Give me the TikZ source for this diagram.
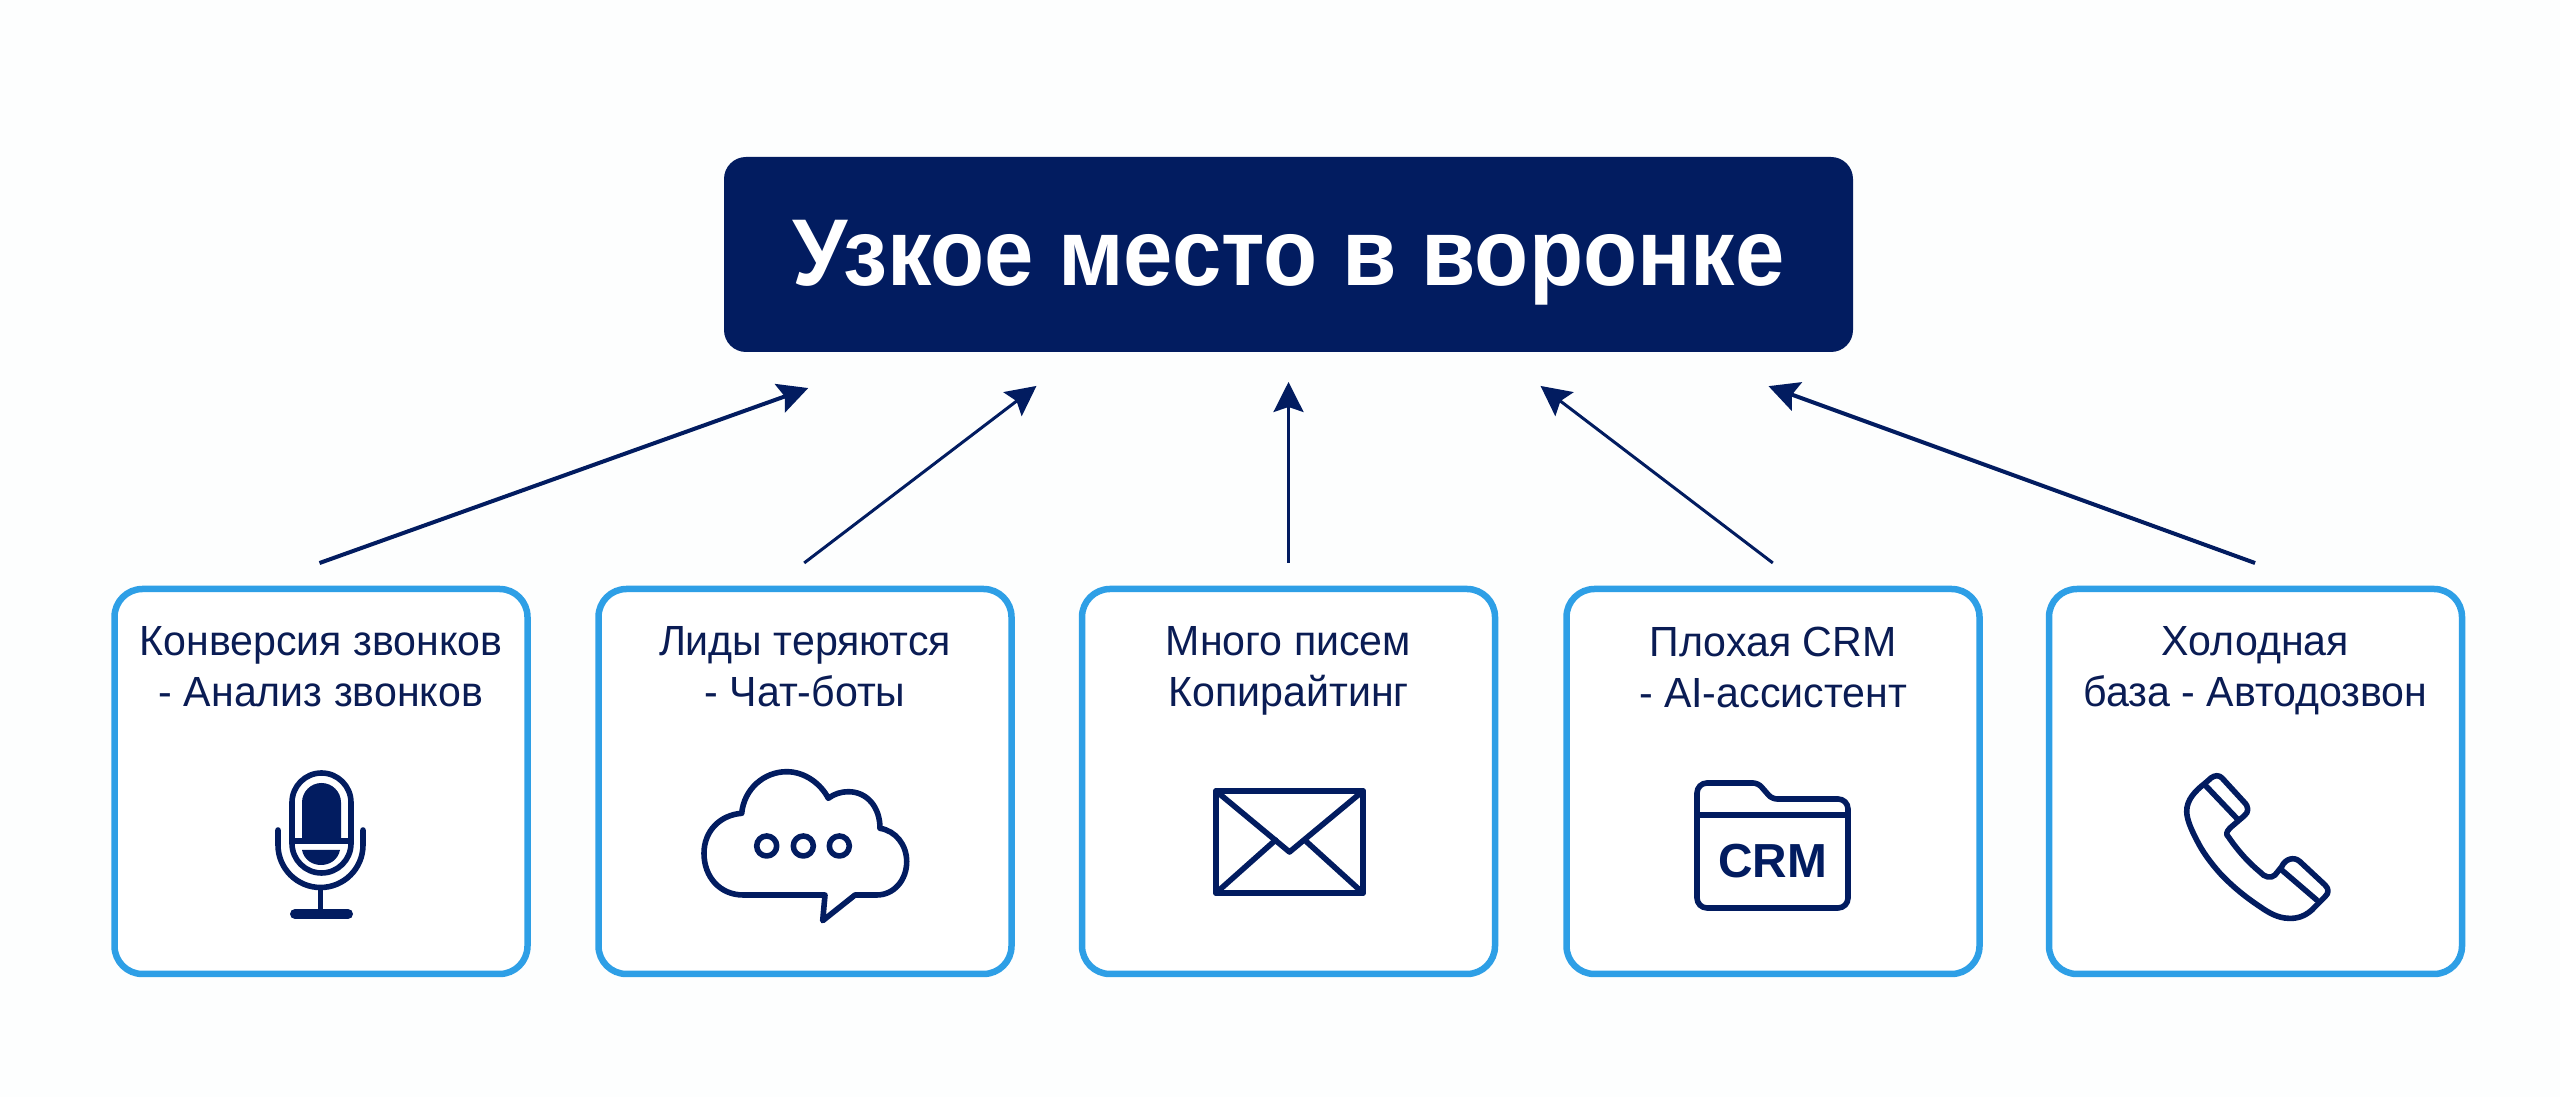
\documentclass[tikz,border=0pt]{standalone}
\usepackage{fontspec}
\setmainfont{Liberation Sans}
\newfontfamily\titlefont[FakeStretch=0.934]{Liberation Sans}
\newfontfamily\labelfont[FakeStretch=0.975]{Liberation Sans}
\usepackage{tikz}
\usetikzlibrary{arrows.meta}
\definecolor{fnnavy}{RGB}{2, 28, 96}
\definecolor{fnink}{RGB}{10, 28, 84}
\definecolor{fnblue}{RGB}{46, 159, 230}
\definecolor{fnpaper}{RGB}{253, 254, 254}

\begin{document}
\begin{tikzpicture}[every node/.style={font=\fontsize{12pt}{14.5pt}\labelfont},
  card/.style={draw=fnblue, fill=white, line width=0.065cm, rounded corners=0.28cm,
               minimum width=4.13cm, minimum height=3.85cm, outer sep=0pt},
  caption/.style={anchor=north, align=center, text=fnink, inner sep=0pt},
  link/.style={-{Stealth[length=0.3cm, width=0.3cm, inset=0.05cm]}, line width=0.03cm, fnnavy},
  icon/.style={draw=fnnavy, line width=0.056cm, line join=round, line cap=round}]
  \useasboundingbox (0,0) rectangle (25.6,10.97);
  \fill[fnpaper] (0,0) rectangle (25.6,10.97);

  % Title
  \node[fill=fnnavy, rounded corners=0.22cm, minimum width=11.29cm, minimum height=1.95cm,
        text=white, inner sep=0pt, outer sep=0pt, text height=0.68cm, text depth=0.05cm,
        font=\fontsize{27pt}{30pt}\titlefont\bfseries] (title) at (12.885,8.425)
    {Узкое место в воронке};

  % Box 1: calls
  \node[card] (b1) at (3.21,3.155) {};
  \node[caption] (t1) at (3.21,4.71) {Конверсия звонков\\- Анализ звонков};
  % Box 2: leads
  \node[card] (b2) at (8.05,3.155) {};
  \node[caption] (t2) at (8.05,4.71) {Лиды теряются\\- Чат-боты};
  % Box 3: letters
  \node[card] (b3) at (12.885,3.155) {};
  \node[caption] (t3) at (12.885,4.71) {Много писем\\Копирайтинг};
  % Box 4: CRM
  \node[card] (b4) at (17.73,3.155) {};
  \node[caption] (t4) at (17.73,4.71) {Плохая CRM\\- AI-ассистент};
  % Box 5: cold base
  \node[card] (b5) at (22.555,3.155) {};
  \node[caption] (t5) at (22.555,4.71) {Холодная\\база - Автодозвон};

  % Arrows up to the title
  \draw[link, line width=0.04cm, shorten <=0.77cm, shorten >=1.07cm]
    ([xshift=-0.74cm]b1.north) -- ([xshift=-3.795cm]title.south);
  \draw[link, shorten <=0.43cm, shorten >=0.56cm]
    ([xshift=-0.35cm]b2.north) -- ([xshift=-2.075cm]title.south);
  \draw[link, shorten <=0.26cm, shorten >=0.30cm] (b3.north) -- (title.south);
  \draw[link, shorten <=0.43cm, shorten >=0.56cm]
    ([xshift=0.34cm]b4.north) -- ([xshift=2.075cm]title.south);
  \draw[link, line width=0.04cm, shorten <=0.76cm, shorten >=1.0cm]
    ([xshift=0.71cm]b5.north) -- ([xshift=3.86cm]title.south);

  % Icon 1: microphone
  \draw[icon] (2.92,2.535) arc (180:360:0.295) -- (3.51,2.945) arc (0:180:0.295) -- cycle;
  \fill[fnnavy] (3.02,2.59) -- (3.02,2.945) arc (180:0:0.195) -- (3.41,2.59) -- cycle;
  \draw[icon] (2.94,2.56) -- (3.49,2.56);
  \fill[fnnavy] (3.02,2.47) .. controls (3.06,2.27) and (3.36,2.27) .. (3.40,2.47) -- cycle;
  \draw[icon] (2.78,2.67) -- (2.78,2.52) arc (180:360:0.425) -- (3.63,2.67);
  \draw[icon] (3.205,2.09) -- (3.205,1.83);
  \draw[icon, line width=0.1cm] (2.95,1.83) -- (3.48,1.83);

  % Icon 2: cloud with three dots
  \draw[icon] (8.25,2.02) -- (7.433,2.02) .. controls (7.2,2.02) and (7.04,2.2) .. (7.04,2.437)
    .. controls (7.04,2.66) and (7.2,2.82) .. (7.417,2.837)
    .. controls (7.44,3.08) and (7.64,3.253) .. (7.867,3.253)
    .. controls (8.05,3.253) and (8.21,3.13) .. (8.283,2.987)
    .. controls (8.34,3.03) and (8.41,3.053) .. (8.483,3.053)
    .. controls (8.67,3.053) and (8.80,2.9) .. (8.8,2.687)
    .. controls (8.96,2.66) and (9.067,2.52) .. (9.067,2.353)
    .. controls (9.067,2.17) and (8.94,2.02) .. (8.767,2.02)
    -- (8.55,2.02) -- (8.227,1.763) -- cycle;
  \draw[icon] (7.667,2.51) circle (0.10);
  \draw[icon] (8.033,2.51) circle (0.10);
  \draw[icon] (8.393,2.51) circle (0.10);

  % Icon 3: envelope
  \draw[icon] (12.16,2.04) rectangle (13.63,3.06);
  \draw[icon] (12.16,3.06) -- (12.895,2.45) -- (13.63,3.06);
  \draw[icon] (12.16,2.04) -- (12.756,2.57);
  \draw[icon] (13.63,2.04) -- (13.046,2.57);

  % Icon 4: folder
  \draw[icon, rounded corners=0.1cm] (16.97,1.89) -- (16.97,3.14)
    [rounded corners=0.05cm] -- (17.58,3.14) -- (17.72,2.98)
    [rounded corners=0.1cm] -- (18.48,2.98) -- (18.48,1.89) -- cycle;
  \draw[icon] (16.97,2.82) -- (18.48,2.82);
  \node[text=fnnavy, inner sep=0pt, font=\fontsize{13.6pt}{15pt}\selectfont\bfseries]
    (crm) at (17.725,2.36) {CRM};

  % Icon 5: phone
  \draw[icon] (22.05,3.137) -- (22.11,3.19) .. controls (22.15,3.22) and (22.19,3.22) .. (22.22,3.19)
    -- (22.44,2.95) .. controls (22.49,2.9) and (22.49,2.85) .. (22.44,2.81)
    -- (22.30,2.69) .. controls (22.26,2.65) and (22.26,2.62) .. (22.283,2.603)
    .. controls (22.38,2.46) and (22.49,2.34) .. (22.6,2.25)
    .. controls (22.64,2.2) and (22.71,2.18) .. (22.75,2.22)
    -- (22.817,2.303) .. controls (22.85,2.38) and (22.94,2.41) .. (23.0,2.353)
    -- (23.25,2.12) .. controls (23.29,2.08) and (23.29,2.04) .. (23.25,2.003)
    -- (23.15,1.903) .. controls (23.07,1.81) and (22.97,1.78) .. (22.883,1.787)
    .. controls (22.78,1.79) and (22.69,1.84) .. (22.6,1.903)
    .. controls (22.44,2.01) and (22.32,2.11) .. (22.2,2.237)
    .. controls (22.1,2.35) and (22.02,2.46) .. (21.967,2.57)
    .. controls (21.91,2.68) and (21.87,2.77) .. (21.867,2.853)
    .. controls (21.865,2.97) and (21.95,3.06) .. (22.05,3.137) -- cycle;
  \draw[icon] (22.05,3.12) -- (22.383,2.77);
  \draw[icon] (22.817,2.27) -- (23.167,1.97);
\end{tikzpicture}
\end{document}
